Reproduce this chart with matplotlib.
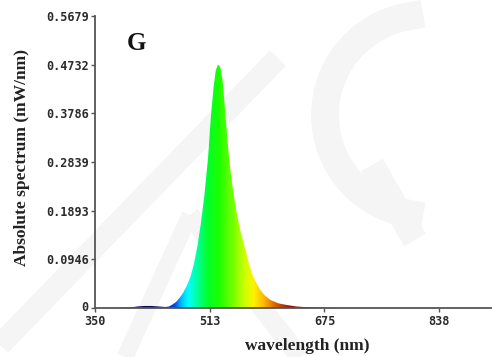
import numpy as np
import matplotlib
matplotlib.use("Agg")
import matplotlib.pyplot as plt
import matplotlib.transforms as mtransforms
from matplotlib.colors import LinearSegmentedColormap

# ---- data ----
wavelength = [350, 380, 400, 410, 420, 430, 440, 450, 455, 460, 465, 470, 475, 480,
              485, 490, 495, 500, 505, 510, 514, 518, 521, 524, 526, 528, 531, 535,
              540, 544, 550, 556, 562, 567, 572, 578, 584, 590, 598, 610, 621, 635,
              650, 670, 700, 910]
spectrum = [0.000, 0.000, 0.001, 0.003, 0.004, 0.004, 0.003, 0.002, 0.003, 0.007,
            0.012, 0.020, 0.030, 0.043, 0.060, 0.085, 0.120, 0.165, 0.220, 0.290,
            0.370, 0.430, 0.462, 0.4727, 0.472, 0.465, 0.440, 0.371, 0.290, 0.243,
            0.190, 0.150, 0.119, 0.092, 0.068, 0.050, 0.035, 0.025, 0.016, 0.009,
            0.006, 0.003, 0.0015, 0.0005, 0.000, 0.000]
y_ticks = [0, 0.0946, 0.1893, 0.2839, 0.3786, 0.4732, 0.5679]
y_tick_labels = ["0", "0.0946", "0.1893", "0.2839", "0.3786", "0.4732", "0.5679"]
x_ticks = [350, 512.5, 675, 837.5]
x_tick_labels = ["350", "513", "675", "838"]

# spectral colour stops (style)
stops = [(380, (0.05, 0.05, 0.30)), (445, (0.05, 0.05, 0.40)), (463, (0.0, 0.3, 0.95)),
         (472, (0.0, 0.75, 1.0)), (482, (0.0, 1.0, 1.0)), (495, (0.0, 1.0, 0.6)),
         (508, (0.0, 1.0, 0.2)), (525, (0.1, 1.0, 0.0)), (545, (0.45, 1.0, 0.0)),
         (562, (0.8, 1.0, 0.0)), (575, (1.0, 0.95, 0.0)), (590, (1.0, 0.7, 0.0)),
         (605, (0.85, 0.4, 0.0)), (625, (0.6, 0.1, 0.05)), (660, (0.35, 0.0, 0.05)),
         (700, (0.3, 0.0, 0.05))]

W, H = 492, 357
fig = plt.figure(figsize=(W / 100, H / 100), dpi=100)
fig.patch.set_facecolor("white")

# faint watermark strokes
wm = fig.add_axes([0, 0, 1, 1], zorder=0)
wm.set_xlim(0, W); wm.set_ylim(H, 0); wm.axis("off")
wcol = "#f5f5f5"
wm.plot([0, 278], [345, 58], color=wcol, lw=16, solid_capstyle="butt")
wm.plot([125, 190], [357, 215], color=wcol, lw=12, solid_capstyle="butt")
wm.plot([190, 300], [215, 357], color=wcol, lw=14, solid_capstyle="butt")
th = np.linspace(0.55 * np.pi, 1.45 * np.pi, 60)
wm.plot(425 + 100 * np.cos(th), 115 + 100 * np.sin(th), color=wcol, lw=20)
wm.plot([372, 415], [165, 240], color=wcol, lw=18, solid_capstyle="butt")

x0, x1 = 95, 492
y0, y1 = 308, 16
ax = fig.add_axes([x0 / W, (H - y0) / H, (x1 - x0) / W, (y0 - y1) / H], zorder=1)
ax.patch.set_alpha(0)
xmax = 350 + (x1 - x0) / 0.706
ax.set_xlim(350, xmax)
ax.set_ylim(0, 0.5679)

wl = np.array(wavelength, float)
sp = np.array(spectrum, float)

# gradient clipped to the filled region
lo, hi = stops[0][0], stops[-1][0]
cmap = LinearSegmentedColormap.from_list(
    "spec", [((w - lo) / (hi - lo), c) for w, c in stops])
grad_x = np.linspace(350, xmax, 800)
vals = np.clip((grad_x - lo) / (hi - lo), 0, 1)
img = ax.imshow(vals[None, :], cmap=cmap, vmin=0, vmax=1, aspect="auto",
                extent=[350, xmax, 0, 0.5679], origin="lower", zorder=2,
                interpolation="bilinear")
poly = ax.fill_between(wl, 0, sp, facecolor="none", edgecolor="none")
path = poly.get_paths()[0]
img.set_clip_path(path, ax.transData)

for s in ["top", "right"]:
    ax.spines[s].set_visible(False)
for s in ["left", "bottom"]:
    ax.spines[s].set_color("#555555")
    ax.spines[s].set_linewidth(1.3)
    ax.spines[s].set_zorder(3)

ax.set_yticks(y_ticks)
ax.set_yticklabels(y_tick_labels)
ax.set_xticks(x_ticks)
ax.set_xticklabels(x_tick_labels)
ax.tick_params(axis="both", length=3, width=1, color="#555555", labelsize=8.5,
               labelcolor="#2a2a2a")
ax.tick_params(axis="y", pad=1.5)
ax.tick_params(axis="x", pad=2)
for lab in ax.get_xticklabels() + ax.get_yticklabels():
    lab.set_fontfamily("DejaVu Sans Mono")
    lab.set_fontweight("bold")
# nudge the "0" label up slightly so it does not touch "350"
zero = ax.get_yticklabels()[0]
zero.set_transform(zero.get_transform() +
                   mtransforms.ScaledTranslation(0, 2 / 100, fig.dpi_scale_trans))

fig.text(22 / W, 1 - 158 / H, "Absolute spectrum (mW/nm)", fontfamily="Liberation Serif",
         fontweight="bold", fontsize=12.5, color="#222222", rotation=90,
         ha="center", va="center")
fig.text(307 / W, 1 - 346 / H, "wavelength (nm)", fontfamily="Liberation Serif",
         fontweight="bold", fontsize=12.5, color="#222222", ha="center", va="center")

fig.text(136 / W, 1 - 43 / H, "G", fontfamily="Liberation Serif", fontweight="bold",
         fontsize=18, ha="center", va="center", color="#111111")

fig.savefig("out.png", dpi=100, facecolor="white")
